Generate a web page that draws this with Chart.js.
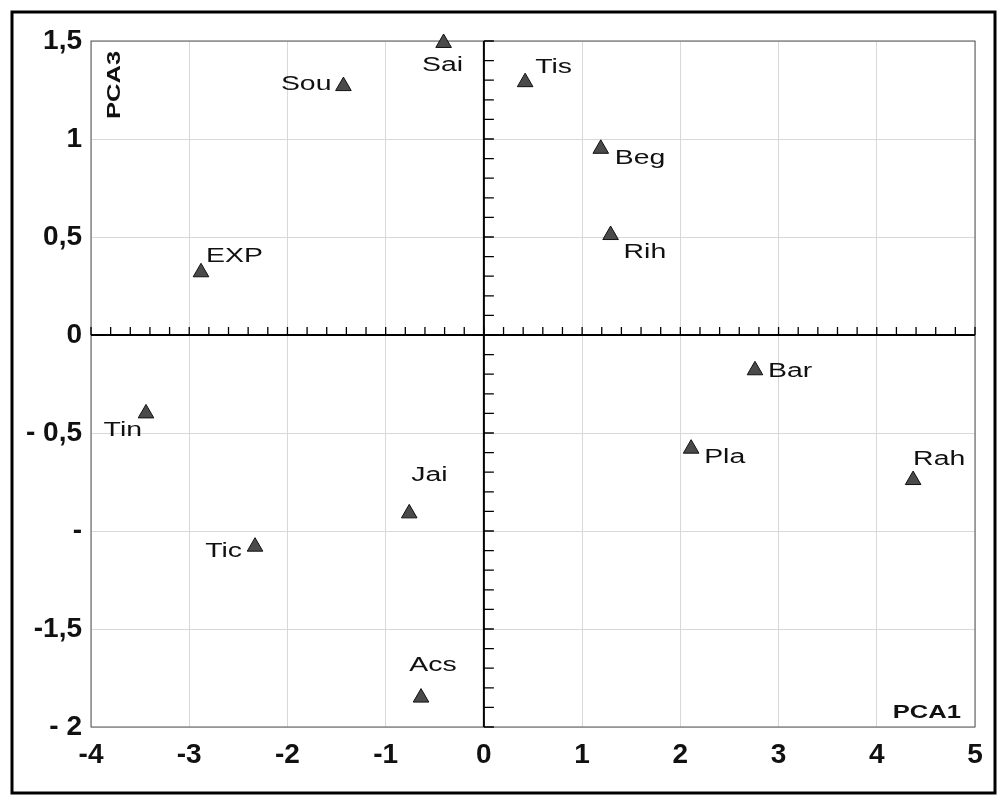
<!DOCTYPE html>
<html>
<head>
<meta charset="utf-8">
<script src="https://cdn.jsdelivr.net/npm/chart.js@4.4.0/dist/chart.umd.min.js"></script>
<style>
  html, body { margin: 0; padding: 0; background: #fff; }
  #wrap { width: 1004px; height: 801px; }
</style>
</head>
<body>
<div id="wrap"><canvas id="pca" width="1004" height="801"></canvas></div>
<script>
// sites and their scores on PCA1 / PCA3
const siteNames = ["Sai", "Sou", "Tis", "Beg", "Rih", "EXP", "Bar", "Tin", "Pla", "Rah", "Jai", "Tic", "Acs"];
const pca1 = [-0.41, -1.43, 0.42, 1.19, 1.29, -2.88, 2.76, -3.44, 2.11, 4.37, -0.76, -2.33, -0.64];
const pca3 = [1.49, 1.27, 1.29, 0.95, 0.51, 0.32, -0.18, -0.40, -0.58, -0.74, -0.91, -1.08, -1.85];

const xTicks = [-4, -3, -2, -1, 0, 1, 2, 3, 4, 5];
const yTickValues = [1.5, 1, 0.5, 0, -0.5, -1, -1.5, -2];
const yTickText = ["1,5", "1", "0,5", "0", "- 0,5", "-", "-1,5", "- 2"];

// where each name sits relative to its triangle: [dx, dy, align]
const labelPlace = [
    [-1, 28, 'center'], [-12, 4, 'right'], [10, -9, 'left'], [14, 15, 'left'],
    [13, 23, 'left'], [5, -10, 'left'], [13, 7, 'left'], [-4, 23, 'right'],
    [13, 14, 'left'], [0, -15, 'left'], [2, -32, 'left'], [-13, 10, 'right'],
    [12, -27, 'center']
];

const FONT = '"Liberation Sans", Arial, Helvetica, sans-serif';
const STRETCH = 1.42; // the original lettering is a wide grotesque

const points = pca1.map((x, i) => ({ x: x, y: pca3[i] }));

function wideText(ctx, txt, x, y, align) {
    ctx.save();
    ctx.translate(x, y);
    ctx.scale(STRETCH, 1);
    ctx.textAlign = align;
    ctx.fillText(txt, 0, 0);
    ctx.restore();
}

const decor = {
    id: 'decor',
    beforeDatasetsDraw(chart) {
        const ctx = chart.ctx;
        const xs = chart.scales.x, ys = chart.scales.y;
        const a = chart.chartArea;
        const x0 = xs.getPixelForValue(0), y0 = ys.getPixelForValue(0);
        ctx.save();
        // plot frame
        ctx.strokeStyle = '#555';
        ctx.lineWidth = 1;
        ctx.strokeRect(a.left, a.top, a.right - a.left, a.bottom - a.top);
        // zero axes
        ctx.strokeStyle = '#000';
        ctx.lineWidth = 2;
        ctx.beginPath();
        ctx.moveTo(a.left, y0); ctx.lineTo(a.right, y0);
        ctx.moveTo(x0, a.top); ctx.lineTo(x0, a.bottom);
        ctx.stroke();
        // minor ticks
        ctx.lineWidth = 1.3;
        ctx.beginPath();
        for (let i = -20; i <= 25; i++) {
            const px = xs.getPixelForValue(i * 0.2);
            ctx.moveTo(px, y0); ctx.lineTo(px, y0 - 8);
        }
        for (let j = -20; j <= 15; j++) {
            const py = ys.getPixelForValue(j * 0.1);
            ctx.moveTo(x0, py); ctx.lineTo(x0 + 10, py);
        }
        ctx.stroke();
        ctx.restore();
    },
    afterDatasetsDraw(chart) {
        const ctx = chart.ctx;
        const a = chart.chartArea;
        const meta = chart.getDatasetMeta(0);
        ctx.save();
        ctx.fillStyle = '#111';
        ctx.font = '20px ' + FONT;
        ctx.textBaseline = 'alphabetic';
        meta.data.forEach((pt, i) => {
            const p = labelPlace[i];
            wideText(ctx, siteNames[i], pt.x + p[0], pt.y + p[1], p[2]);
        });
        // axis names inside the plot
        ctx.font = 'bold 18px ' + FONT;
        wideText(ctx, 'PCA1', a.right - 14, a.bottom - 9, 'right');
        ctx.translate(a.left + 29, a.top + 44);
        ctx.rotate(-Math.PI / 2);
        wideText(ctx, 'PCA3', 0, 0, 'center');
        ctx.restore();
        // outer frame
        ctx.save();
        ctx.strokeStyle = '#000';
        ctx.lineWidth = 3;
        ctx.strokeRect(12, 12, 983, 781);
        ctx.restore();
    }
};

new Chart(document.getElementById('pca'), {
    type: 'scatter',
    data: {
        datasets: [{
            data: points,
            clip: false,
            pointStyle: 'triangle',
            pointRadius: 9,
            pointHoverRadius: 9,
            backgroundColor: '#4a4a4a',
            borderColor: '#111',
            borderWidth: 1
        }]
    },
    options: {
        responsive: false,
        animation: false,
        layout: { padding: { left: 0, right: 29, top: 41, bottom: 0 } },
        plugins: {
            legend: { display: false },
            tooltip: { enabled: false }
        },
        scales: {
            x: {
                type: 'linear',
                min: -4,
                max: 5,
                afterBuildTicks: s => { s.ticks = xTicks.map(v => ({ value: v })); },
                afterFit: s => { s.height = 74; },
                grid: { color: '#d8d8d8', lineWidth: 1, drawTicks: false },
                border: { display: false },
                ticks: {
                    color: '#111',
                    padding: 11,
                    font: { family: FONT, size: 28, weight: 'bold' }
                }
            },
            y: {
                type: 'linear',
                min: -2,
                max: 1.5,
                afterBuildTicks: s => { s.ticks = yTickValues.map(v => ({ value: v })); },
                afterFit: s => { s.width = 91; },
                grid: { color: '#d8d8d8', lineWidth: 1, drawTicks: false },
                border: { display: false },
                ticks: {
                    color: '#111',
                    padding: 9,
                    font: { family: FONT, size: 28, weight: 'bold' },
                    callback: v => yTickText[yTickValues.indexOf(v)]
                }
            }
        }
    },
    plugins: [decor]
});
</script>
</body>
</html>
